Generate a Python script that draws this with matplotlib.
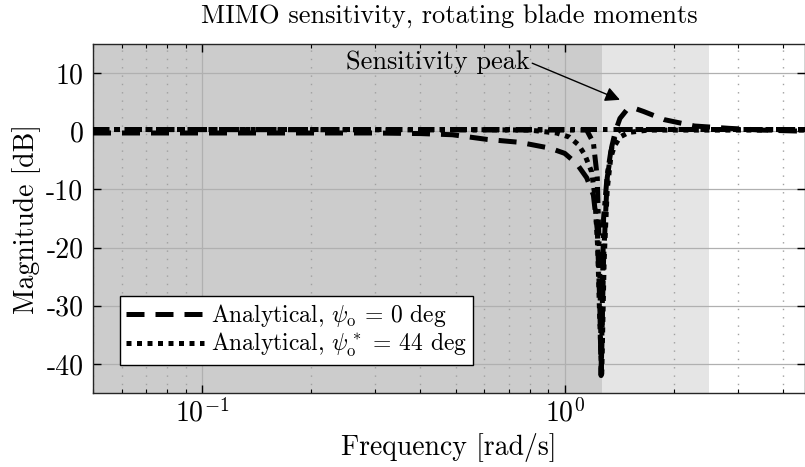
import matplotlib
matplotlib.use("Agg")
import matplotlib.pyplot as plt
from matplotlib.lines import Line2D

plt.rcParams['font.family'] = 'serif'
plt.rcParams['font.serif'] = ['cmr10']
plt.rcParams['mathtext.fontset'] = 'cm'
plt.rcParams['axes.unicode_minus'] = False
plt.rcParams['axes.formatter.use_mathtext'] = True

# analytical, psi_o = 0 deg (dashed)
freq_a = [0.05, 0.1, 0.2, 0.3, 0.4, 0.49, 0.61, 0.75, 0.91, 1.0, 1.08, 1.15, 1.2,
          1.23, 1.25, 1.26, 1.28, 1.31, 1.35, 1.38, 1.42, 1.48, 1.55, 1.65, 1.88,
          2.28, 2.84, 3.5, 4.6]
mag_a = [-0.3, -0.3, -0.3, -0.3, -0.4, -0.6, -1.4, -1.9, -2.9, -3.8, -5.6, -8.0, -11,
         -17, -30, -42, -22, -8, -2.5, 0.0, 2.2, 3.6, 4.0, 3.4, 2.0,
         0.9, 0.5, 0.2, 0.0]

# analytical, psi*_o = 44 deg (dotted)
freq_b = [0.05, 0.5, 0.8, 0.95, 1.03, 1.09, 1.135, 1.187, 1.21, 1.233, 1.25, 1.265,
          1.285, 1.31, 1.34, 1.37, 1.42, 1.5, 1.7, 4.6]
mag_b = [0.3, 0.3, 0.2, -0.3, -1.0, -2.3, -4.0, -7.0, -11, -20, -33, -42,
         -22, -10, -4.5, -2.6, -1.0, -0.2, 0.2, 0.2]

# other curves (dash-dot, not in legend)
freq_c = [0.05, 4.6]
mag_c = [0.4, 0.4]
freq_d = [0.05, 1.15, 1.2, 1.23, 1.25, 1.262, 1.28, 1.31, 1.34, 1.38, 1.42, 4.6]
mag_d = [0.3, 0.2, -2, -8, -25, -41, -15, -7.5, -3.5, -0.6, 0.3, 0.3]

band_dark = (0.05, 1.265)
band_light = (1.265, 2.5)
yticks = [-40, -30, -20, -10, 0, 10]
ylabels = ['-40', '-30', '-20', '-10', '0', '10']

fig = plt.figure(figsize=(8.05, 4.67), dpi=100)
ax = fig.add_axes([93/805, 74/467, 712/805, 349/467])

ax.axvspan(*band_dark, color='#cccccc', lw=0, zorder=0)
ax.axvspan(*band_light, color='#e5e5e5', lw=0, zorder=0)

lw = 3.6
ax.plot(freq_c, mag_c, color='k', lw=lw, dashes=(3.2, 1.2, 0.9, 1.2), zorder=3)
ax.plot(freq_d, mag_d, color='k', lw=lw, dashes=(3.2, 1.2, 0.9, 1.2), zorder=3)
ax.plot(freq_a, mag_a, color='k', lw=lw, dashes=(3.6, 2.2), zorder=4)
ax.plot(freq_b, mag_b, color='k', lw=lw, dashes=(1.0, 1.1), zorder=4)

ax.set_xscale('log')
ax.set_xlim(0.05, 4.6)
ax.set_ylim(-45, 15)
ax.set_yticks(yticks)
ax.set_yticklabels(ylabels)

ax.grid(True, which='major', color='#b0b0b0', lw=0.9, zorder=1)
ax.grid(True, which='minor', axis='x', color='#a0a0a0', lw=1.0,
        dashes=(1, 5), zorder=1)
ax.set_axisbelow(True)
ax.tick_params(which='both', direction='in', top=True, right=True, labelsize=20)
ax.tick_params(which='major', length=6, width=1)
ax.tick_params(axis='y', which='major', pad=7)
ax.tick_params(axis='x', which='major', pad=4)
ax.tick_params(which='minor', length=3, width=0.8)
for s in ax.spines.values():
    s.set_color('#262626')
    s.set_linewidth(1)

ax.set_title('MIMO sensitivity, rotating blade moments', fontsize=19, pad=15)
ax.set_xlabel('Frequency [rad/s]', fontsize=20, labelpad=4)
ax.set_ylabel('Magnitude [dB]', fontsize=20, labelpad=4)

ax.annotate('Sensitivity peak', xy=(1.42, 5.4), xytext=(0.446, 11.9),
            fontsize=19, ha='center', va='center',
            arrowprops=dict(arrowstyle='-|>', color='k', lw=1,
                            mutation_scale=22, shrinkA=0, shrinkB=0,
                            relpos=(1.0, 0.5)))

handles = [Line2D([], [], color='k', lw=lw, dashes=(3.6, 2.2)),
           Line2D([], [], color='k', lw=lw, dashes=(1.0, 1.1))]
labels = [r'Analytical, $\psi_\mathrm{o}\,=\,0$ deg',
          r'Analytical, $\psi_\mathrm{o}^*\,=\,44$ deg']
leg = ax.legend(handles, labels, loc='lower left', bbox_to_anchor=(0.038, 0.08),
                borderaxespad=0, fontsize=17, handlelength=3.3, handletextpad=0.3,
                borderpad=0.25, labelspacing=0.1, fancybox=False, framealpha=1,
                edgecolor='k')
leg.get_frame().set_linewidth(1)

fig.savefig('out.png', dpi=100)
